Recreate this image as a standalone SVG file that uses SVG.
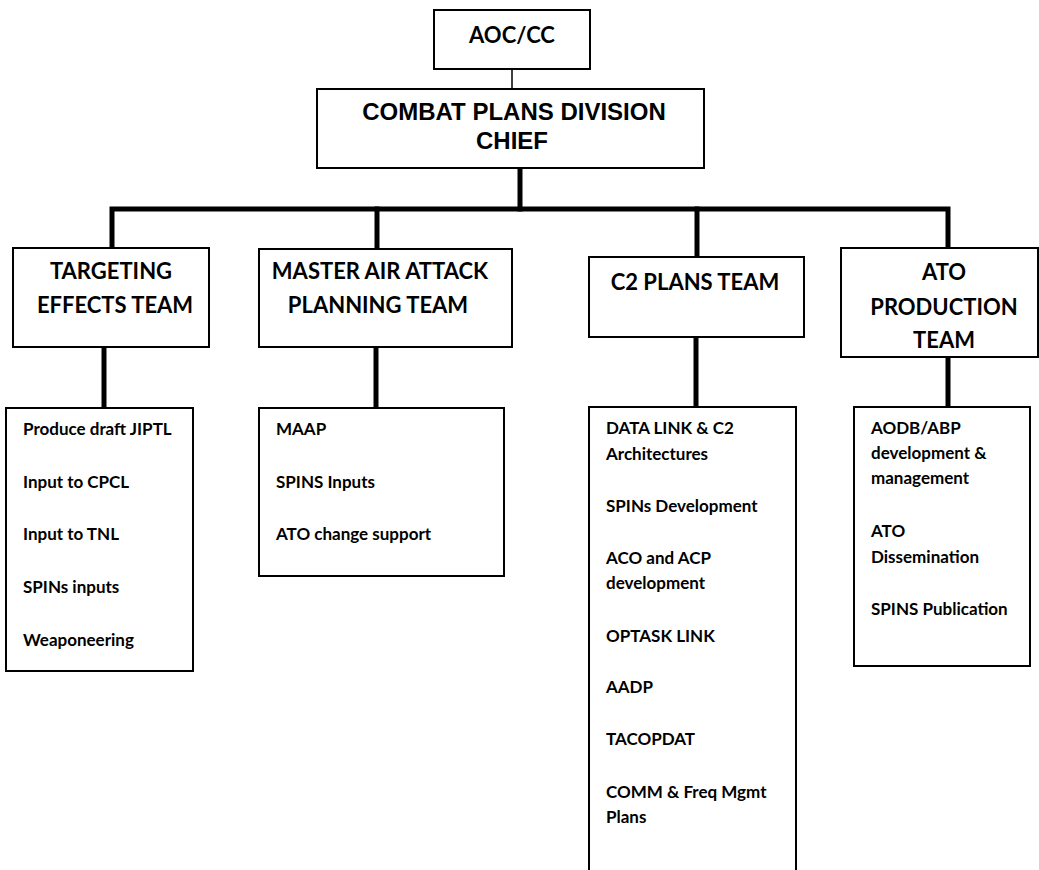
<svg xmlns="http://www.w3.org/2000/svg" width="1039" height="870" viewBox="0 0 1039 870">
  <style>
    .box { fill: #ffffff; stroke: #000000; stroke-width: 2; }
    .thin { stroke: #000000; stroke-width: 1.5; fill: none; }
    .thick { stroke: #000000; stroke-width: 5; fill: none; stroke-linecap: square; }
    .top { font-family: "Lato", "Liberation Sans", sans-serif; font-weight: bold; font-size: 22px; fill: #000; text-anchor: middle; }
    .chief { font-family: "Liberation Sans", Arial, sans-serif; font-weight: bold; font-size: 24px; fill: #000; text-anchor: middle; }
    .team { font-family: "Lato", "Liberation Sans", sans-serif; font-weight: bold; font-size: 22px; fill: #000; text-anchor: middle; }
    .item { font-family: "Lato", "Liberation Sans", sans-serif; font-weight: bold; font-size: 17px; fill: #000; }
  </style>

  <!-- connectors -->
  <g id="connectors">
    <line class="thin" x1="512" y1="69" x2="512" y2="89"/>
    <line class="thick" x1="520" y1="168" x2="520" y2="209"/>
    <polyline class="thick" points="112,248 112,209 948,209 948,248"/>
    <line class="thick" x1="377" y1="209" x2="377" y2="249"/>
    <line class="thick" x1="697" y1="209" x2="697" y2="257"/>
    <line class="thick" x1="104" y1="347" x2="104" y2="408"/>
    <line class="thick" x1="376" y1="347" x2="376" y2="408"/>
    <line class="thick" x1="696" y1="337" x2="696" y2="407"/>
    <line class="thick" x1="948" y1="357" x2="948" y2="407"/>
  </g>

  <!-- command level -->
  <g id="aoc-cc">
    <rect class="box" x="434" y="10" width="156" height="59"/>
    <text class="top" x="512" y="43">AOC/CC</text>
  </g>
  <g id="combat-plans-chief">
    <rect class="box" x="317" y="89" width="387" height="79"/>
    <text class="chief" x="514" y="120">COMBAT PLANS DIVISION</text>
    <text class="chief" x="512" y="149">CHIEF</text>
  </g>

  <!-- teams -->
  <g id="targeting-effects-team">
    <rect class="box" x="13" y="248" width="196" height="99"/>
    <text class="team" x="111" y="279">TARGETING</text>
    <text class="team" x="115" y="313">EFFECTS TEAM</text>
  </g>
  <g id="maap-team">
    <rect class="box" x="259" y="249" width="253" height="98"/>
    <text class="team" x="380" y="279">MASTER AIR ATTACK</text>
    <text class="team" x="378" y="313">PLANNING TEAM</text>
  </g>
  <g id="c2-plans-team">
    <rect class="box" x="589" y="257" width="215" height="80"/>
    <text class="team" x="695" y="290">C2 PLANS TEAM</text>
  </g>
  <g id="ato-production-team">
    <rect class="box" x="841" y="248" width="197" height="109"/>
    <text class="team" x="944" y="280">ATO</text>
    <text class="team" x="944" y="315">PRODUCTION</text>
    <text class="team" x="944" y="348">TEAM</text>
  </g>

  <!-- task lists -->
  <g id="targeting-tasks">
    <rect class="box" x="6" y="408" width="187" height="263"/>
    <text class="item" x="23" y="435">Produce draft JIPTL</text>
    <text class="item" x="23" y="488">Input to CPCL</text>
    <text class="item" x="23" y="540">Input to TNL</text>
    <text class="item" x="23" y="593">SPINs inputs</text>
    <text class="item" x="23" y="646">Weaponeering</text>
  </g>
  <g id="maap-tasks">
    <rect class="box" x="259" y="408" width="245" height="168"/>
    <text class="item" x="276" y="435">MAAP</text>
    <text class="item" x="276" y="488">SPINS Inputs</text>
    <text class="item" x="276" y="540">ATO change support</text>
  </g>
  <g id="c2-tasks">
    <rect class="box" x="589" y="407" width="207" height="480"/>
    <text class="item" x="606" y="434">DATA LINK &amp; C2</text>
    <text class="item" x="606" y="460">Architectures</text>
    <text class="item" x="606" y="512">SPINs Development</text>
    <text class="item" x="606" y="564">ACO and ACP</text>
    <text class="item" x="606" y="589">development</text>
    <text class="item" x="606" y="642">OPTASK LINK</text>
    <text class="item" x="606" y="693">AADP</text>
    <text class="item" x="606" y="745">TACOPDAT</text>
    <text class="item" x="606" y="798">COMM &amp; Freq Mgmt</text>
    <text class="item" x="606" y="823">Plans</text>
  </g>
  <g id="ato-tasks">
    <rect class="box" x="854" y="407" width="176" height="259"/>
    <text class="item" x="871" y="434">AODB/ABP</text>
    <text class="item" x="871" y="459">development &amp;</text>
    <text class="item" x="871" y="484">management</text>
    <text class="item" x="871" y="537">ATO</text>
    <text class="item" x="871" y="563">Dissemination</text>
    <text class="item" x="871" y="615">SPINS Publication</text>
  </g>
</svg>
